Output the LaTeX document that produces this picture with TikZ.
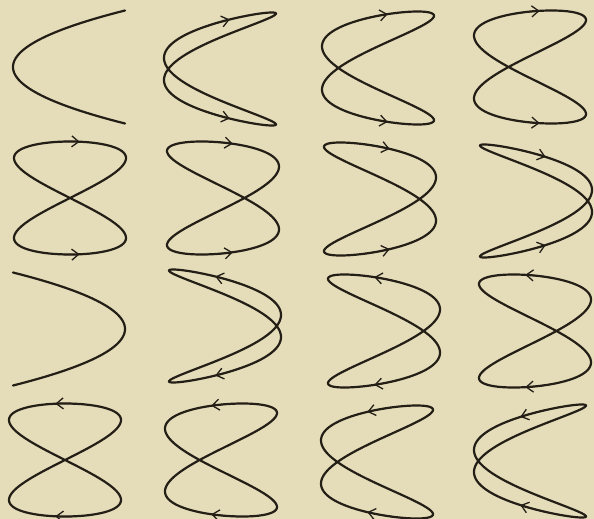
\documentclass[tikz,border=0pt]{standalone}
\usetikzlibrary{arrows.meta}
\definecolor{paper}{RGB}{229,220,186}
\definecolor{ink}{RGB}{36,31,22}
\begin{document}
\begin{tikzpicture}[x=1pt,y=-1pt,
  curve/.style={ink, line width=2.2pt, line join=round, line cap=round},
  tipline/.style={ink, line width=1.3pt, -{Straight Barb[length=7pt,width=11pt]}}]
\fill[paper] (0,0) rectangle (594,519);
\useasboundingbox (0,0) rectangle (594,519);
% Lissajous curves x = -cos(2t - phi), y = sin t, phi = k * 22.5 deg
\foreach \k/\cx/\cy in {0/69/67, 1/220/69, 2/378/68, 3/530/67,
                        4/70/198, 5/223/198, 6/380/199, 7/536/201,
                        8/69/329, 9/225/326, 10/384/331, 11/535/331,
                        12/65/460, 13/221/460, 14/377/462, 15/530/461}{
  \pgfmathsetmacro{\ph}{22.5*\k}
  \draw[curve] plot[domain=0:360, samples=181, smooth, variable=\t]
     ({\cx - 56*cos(2*\t - \ph)}, {\cy - 56.5*sin(\t)});
}
% direction arrows on the outer top and bottom arcs
\foreach \k/\cx/\cy in {1/220/69, 2/378/68, 3/530/67,
                        4/70/198, 5/223/198, 6/380/199, 7/536/201,
                        9/225/326, 10/384/331, 11/535/331,
                        12/65/460, 13/221/460, 14/377/462, 15/530/461}{
  \pgfmathsetmacro{\ph}{22.5*\k}
  \pgfmathsetmacro{\ta}{ifthenelse(\k<8, \ph/2+45, \ph/2-45)}
  \pgfmathsetmacro{\tb}{ifthenelse(\k<8, \ph/2+225, \ph/2+135)}
  \pgfmathsetmacro{\tas}{\ta-8}
  \pgfmathsetmacro{\tae}{\ta+5}
  \pgfmathsetmacro{\tbs}{\tb-8}
  \pgfmathsetmacro{\tbe}{\tb+5}
  \draw[tipline] plot[domain=\tas:\tae, samples=7, smooth, variable=\t]
     ({\cx - 56*cos(2*\t - \ph)}, {\cy - 56.5*sin(\t)});
  \draw[tipline] plot[domain=\tbs:\tbe, samples=7, smooth, variable=\t]
     ({\cx - 56*cos(2*\t - \ph)}, {\cy - 56.5*sin(\t)});
}
\end{tikzpicture}
\end{document}
